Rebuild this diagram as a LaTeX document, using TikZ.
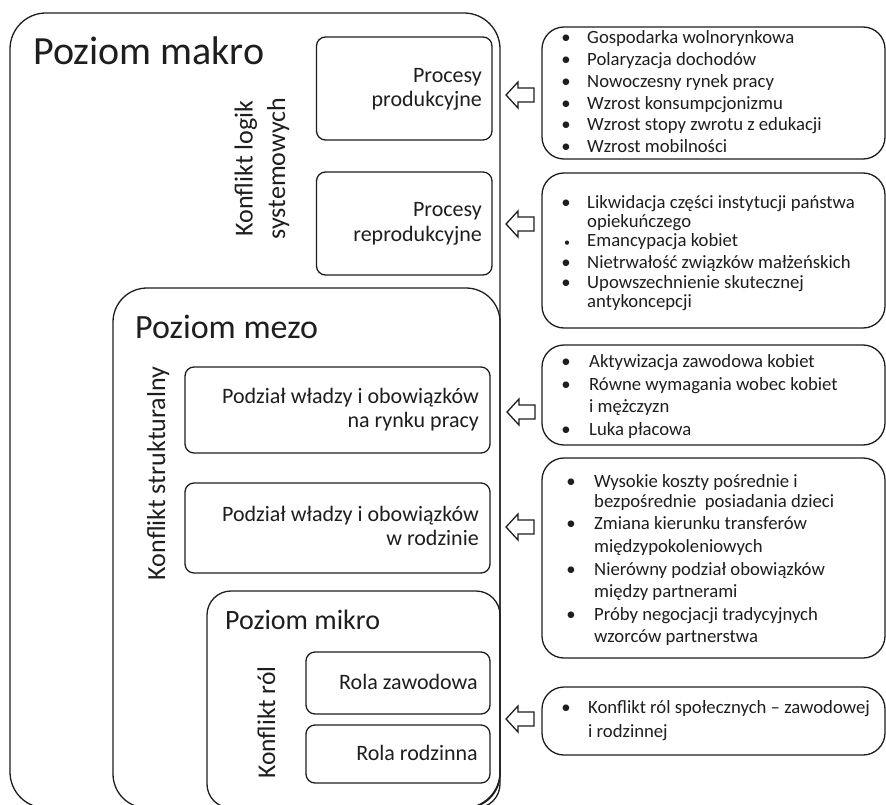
\documentclass[tikz,border=0pt]{standalone}
\usepackage{fontspec}
\setmainfont{Carlito}
\definecolor{ink}{HTML}{1E1E1E}
\newcommand\myfs[1]{\fontsize{#1}{#1}\selectfont}
\begin{document}
\begin{tikzpicture}[x=1pt,y=-1pt,
  frame/.style={draw=ink, line width=1.3pt, rectangle, inner sep=0pt, fill=none},
  bigbox/.style={frame},
  inbox/.style={frame, rounded corners=9pt},
  rbox/.style={frame, rounded corners=22pt},
  title/.style={inner sep=0pt, anchor=base west, text=ink},
  boxtext/.style={inner sep=0pt, anchor=base east, text=ink, font=\myfs{22}},
  vtext/.style={inner sep=0pt, anchor=base, rotate=90, text=ink, font=\myfs{26}},
  rtext/.style={inner sep=0pt, anchor=base west, text=ink, font=\myfs{18.7}},
  bul/.style={inner sep=0pt, anchor=base, text=ink, font=\myfs{18.7}},
  smallbul/.style={inner sep=0pt, anchor=base, text=ink, font=\myfs{12}},
  blockarrow/.style={draw=ink, line width=1.3pt, line join=miter, fill=white}
]
\useasboundingbox (0,0) rectangle (886,805);
\clip (0,0) rectangle (886,805);
\fill[white] (0,0) rectangle (886,805);

% containers
\node[bigbox, rounded corners=36pt, minimum width=490pt, minimum height=795pt] (macro) at (255,410.5) {};
\node[bigbox, rounded corners=34pt, minimum width=387pt, minimum height=520pt] (mezo) at (306.5,548) {};
\node[bigbox, rounded corners=24pt, minimum width=293pt, minimum height=217pt] (mikro) at (353.5,699.5) {};

% titles
\node[title, font=\myfs{40}] (tmakro) at (33,65) {Poziom makro};
\node[title, font=\myfs{34}] (tmezo) at (135,338) {Poziom mezo};
\node[title, font=\myfs{28}] (tmikro) at (225,629) {Poziom mikro};

% vertical labels
\node[vtext] (vlog1) at (252.5,168.5) {Konflikt logik};
\node[vtext] (vlog2) at (285,168.5) {systemowych};
\node[vtext] (vstr) at (165,473.5) {Konflikt strukturalny};
\node[vtext, font=\myfs{25.5}] (vrol) at (275,722.5) {Konflikt ról};

% inner boxes
\node[inbox, minimum width=175.5pt, minimum height=103pt] (prod) at (404.25,88.5) {};
\node[inbox, minimum width=175.5pt, minimum height=103pt] (reprod) at (404.25,223.5) {};
\node[inbox, minimum width=305pt, minimum height=86pt] (rynek) at (337.5,410) {};
\node[inbox, minimum width=305pt, minimum height=90pt] (rodz) at (337.5,528) {};
\node[inbox, minimum width=184pt, minimum height=62pt] (rzaw) at (398,683) {};
\node[inbox, minimum width=184pt, minimum height=58pt] (rrod) at (398,754) {};

\node[boxtext] (prod1) at (482,83) {Procesy};
\node[boxtext] (prod2) at (482,107) {produkcyjne};
\node[boxtext] (rep1) at (482,217) {Procesy};
\node[boxtext] (rep2) at (482,241) {reprodukcyjne};
\node[boxtext] (ryn1) at (479,403) {Podział władzy i obowiązków};
\node[boxtext] (ryn2) at (479,427) {na rynku pracy};
\node[boxtext] (rod1) at (479,521) {Podział władzy i obowiązków};
\node[boxtext] (rod2) at (479,545) {w rodzinie};
\node[boxtext] (zaw1) at (478,689) {Rola zawodowa};
\node[boxtext] (rdz1) at (478,760) {Rola rodzinna};

% right boxes
\node[rbox, minimum width=343pt, minimum height=132pt] (r1) at (713.5,93) {};
\node[rbox, minimum width=343pt, minimum height=155pt] (r2) at (713.5,250.5) {};
\node[rbox, minimum width=343pt, minimum height=100pt] (r3) at (713.5,395) {};
\node[rbox, minimum width=343pt, minimum height=200pt] (r4) at (713.5,558) {};
\node[rbox, minimum width=343pt, minimum height=68pt] (r5) at (713.5,721) {};

% box 1
\foreach \yy/\lt [count=\i] in {44/Gospodarka wolnorynkowa, 66/Polaryzacja dochodów, 87.5/Nowoczesny rynek pracy, 109.5/Wzrost konsumpcjonizmu, 131/Wzrost stopy zwrotu z edukacji, 153/Wzrost mobilności}
  {\node[rtext] (a\i) at (587,\yy) {\lt};
   \node[bul] (ab\i) at (566,\yy) {•};}
% box 2
\foreach \yy/\lt [count=\i] in {209/Likwidacja części instytucji państwa, 228/opiekuńczego, 247/Emancypacja kobiet, 268/Nietrwałość związków małżeńskich, 288/Upowszechnienie skutecznej, 307/antykoncepcji}
  {\node[rtext] (b\i) at (587,\yy) {\lt};}
\node[bul] (bb1) at (566,209) {•};
\node[smallbul] (bb3) at (567,247) {•};
\node[bul] (bb4) at (566,268) {•};
\node[bul] (bb5) at (566,288) {•};
% box 3
\foreach \yy/\lt [count=\i] in {367/Aktywizacja zawodowa kobiet, 390/Równe wymagania wobec kobiet, 412/i mężczyzn, 435/Luka płacowa}
  {\node[rtext] (c\i) at (589,\yy) {\lt};}
\foreach \yy [count=\i] in {367,390,435}
  {\node[bul] (cb\i) at (566,\yy) {•};}
% box 4
\foreach \yy/\lt [count=\i] in {487/Wysokie koszty pośrednie i, 507/bezpośrednie\ \ posiadania dzieci, 529/Zmiana kierunku transferów, 552/międzypokoleniowych, 575/Nierówny podział obowiązków, 597/między partnerami, 620/Próby negocjacji tradycyjnych, 642/wzorców partnerstwa}
  {\node[rtext] (d\i) at (594,\yy) {\lt};}
\foreach \yy [count=\i] in {487,529,575,620}
  {\node[bul] (db\i) at (571,\yy) {•};}
% box 5
\node[rtext] (e1) at (588,713) {Konflikt ról społecznych – zawodowej};
\node[rtext] (e2) at (588,737) {i rodzinnej};
\node[bul] (eb1) at (566,713) {•};

% block arrows
\coordinate (t1) at (506,95);
\coordinate (t2) at (506,224);
\coordinate (t3) at (507,412);
\coordinate (t4) at (506,527);
\coordinate (t5) at (506,719);
\foreach \t in {t1,t2,t3,t4,t5}
  \draw[blockarrow] (\t) -- ++(12,-13) -- ++(0,6) -- ++(16,0) -- ++(0,14) -- ++(-16,0) -- ++(0,6) -- cycle;
\end{tikzpicture}
\end{document}
